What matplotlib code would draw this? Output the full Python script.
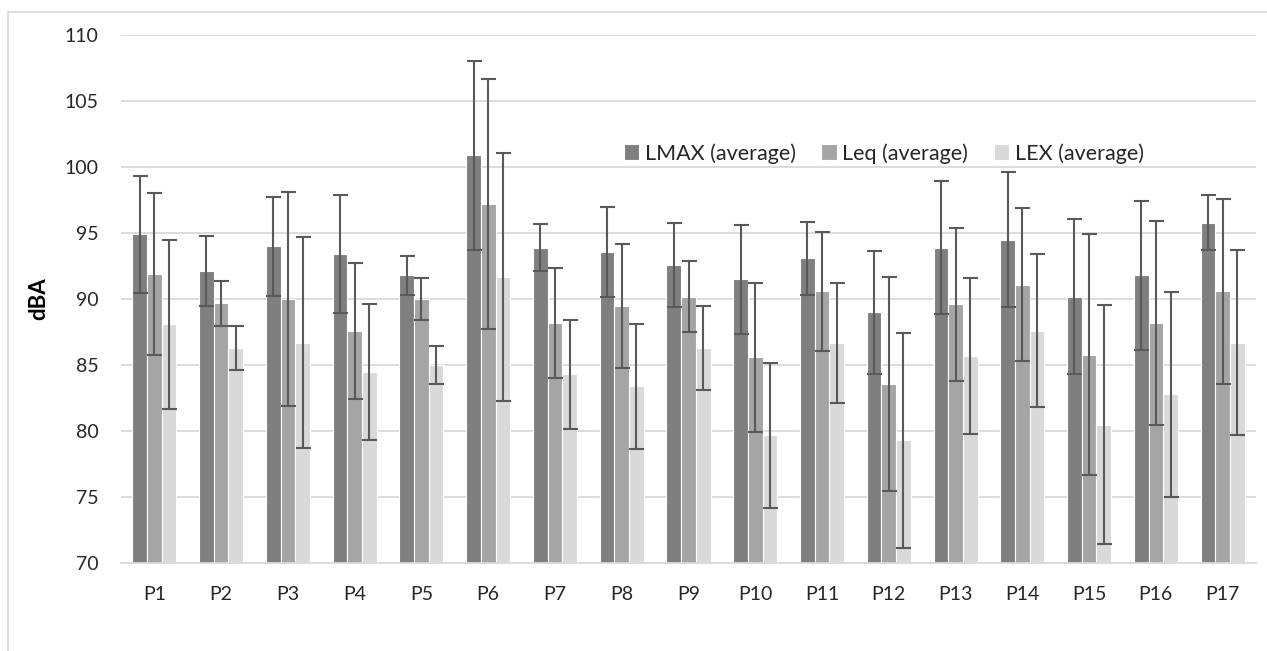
import numpy as np
import matplotlib
matplotlib.use("Agg")
import matplotlib.pyplot as plt
from matplotlib.lines import Line2D

plt.rcParams["font.family"] = ["Lato", "DejaVu Sans"]

# noise levels per measuring point (dBA), error = half-width of the bar
points = ["P%d" % i for i in range(1, 18)]
lmax = [94.9, 92.1, 94.0, 93.4, 91.8, 100.9, 93.9, 93.6, 92.6, 91.5, 93.1, 89.0, 93.9, 94.5, 90.2, 91.8, 95.8]
lmax_err = [4.45, 2.65, 3.75, 4.45, 1.45, 7.15, 1.8, 3.4, 3.2, 4.15, 2.75, 4.65, 5.05, 5.1, 5.85, 5.65, 2.05]
leq = [91.9, 89.7, 90.0, 87.6, 90.0, 97.2, 88.2, 89.5, 90.2, 85.6, 90.6, 83.6, 89.6, 91.1, 85.8, 88.2, 90.6]
leq_err = [6.15, 1.7, 8.1, 5.15, 1.6, 9.45, 4.15, 4.7, 2.7, 5.65, 4.5, 8.1, 5.8, 5.8, 9.1, 7.75, 7.0]
lex = [88.1, 86.3, 86.7, 84.5, 85.0, 91.7, 84.3, 83.4, 86.3, 79.7, 86.7, 79.3, 85.7, 87.6, 80.5, 82.8, 86.7]
lex_err = [6.4, 1.7, 8.0, 5.15, 1.45, 9.4, 4.15, 4.75, 3.15, 5.5, 4.55, 8.15, 5.9, 5.8, 9.05, 7.75, 7.0]
labels = ["LMAX (average)", "Leq (average)", "LEX (average)"]
colors = ["#7f7f7f", "#a5a5a5", "#d9d9d9"]

W, H = 1267, 651
fig = plt.figure(figsize=(W / 100, H / 100), dpi=100)
ax = fig.add_axes([121 / W, 1 - 563.3 / H, (1256 - 121) / W, (563.3 - 35) / H])

x = np.arange(len(points))
bw = 0.22
series = [(lmax, lmax_err), (leq, leq_err), (lex, lex_err)]
for i, (vals, err) in enumerate(series):
    xs = x + (i - 1) * bw
    ax.bar(xs, np.array(vals) - 70, bottom=70, width=bw, color=colors[i],
           edgecolor="white", linewidth=0.8, label=labels[i], zorder=2)
    ax.errorbar(xs, vals, yerr=err, fmt="none", ecolor="#595959",
                elinewidth=1.5, capsize=5.4, capthick=1.5, zorder=3)

ax.set_xlim(-0.5, len(points) - 0.5)
ax.set_ylim(70, 110)
ax.set_yticks(range(70, 111, 5))
ax.set_xticks(x)
ax.set_xticklabels(points)
ax.tick_params(axis="both", length=0, labelsize=14, colors="#262626", pad=16)
ax.grid(axis="y", color="#d9d9d9", linewidth=1.3, zorder=0)
ax.set_axisbelow(True)
for s in ["top", "right", "left"]:
    ax.spines[s].set_visible(False)
ax.spines["bottom"].set_color("#d9d9d9")
ax.spines["bottom"].set_linewidth(1.3)

ax.legend(loc="center", bbox_to_anchor=(0.672, 0.776), ncol=3, frameon=False,
          fontsize=15.5, handlelength=0.72, handleheight=0.72, handletextpad=0.25,
          columnspacing=1.2, labelcolor="#262626")

fig.text(39 / W, 1 - 299 / H, "dBA", rotation=90, ha="center", va="center",
         fontsize=16, fontweight="bold", color="#000000")

# chart frame (only top and left edges visible in the original)
fig.add_artist(Line2D([8 / W, 1], [1 - 12 / H, 1 - 12 / H], color="#d9d9d9", lw=1.2))
fig.add_artist(Line2D([8 / W, 8 / W], [1 - 12 / H, 0], color="#d9d9d9", lw=1.2))

fig.savefig("out.png", dpi=100)
